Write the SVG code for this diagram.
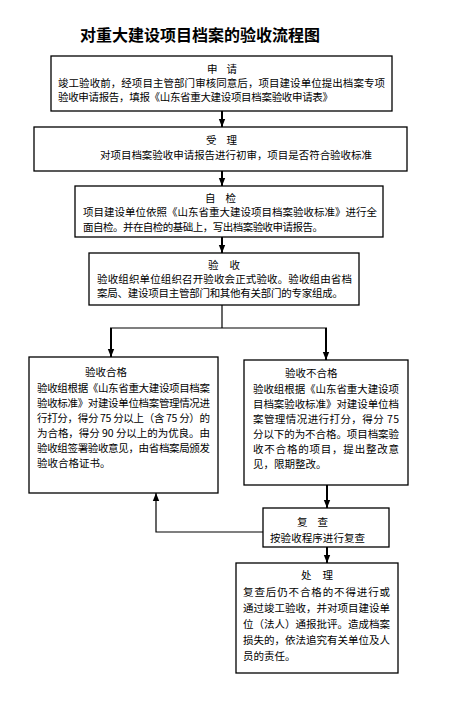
<svg xmlns="http://www.w3.org/2000/svg" width="455" height="701" viewBox="0 0 455 701">
<defs>
<marker id="ah" markerUnits="userSpaceOnUse" markerWidth="8" markerHeight="8" viewBox="0 0 8 8" refX="8" refY="4" orient="auto">
<path d="M0,0.8 L8,4 L0,7.2 Z" fill="#000"/>
</marker>
<style>
.box{fill:#fff;stroke:#000;stroke-width:1.3}
.t{font-family:"Noto Sans CJK SC","Noto Sans CJK JP",sans-serif;font-size:10.5px;fill:#000}
.h{font-family:"Noto Sans CJK SC","Noto Sans CJK JP",sans-serif;font-size:16px;font-weight:bold;fill:#000}
.c{text-anchor:middle}
.thick{fill:none;stroke:#000;stroke-width:2}
.thin{fill:none;stroke:#000;stroke-width:1.2}
</style>
</defs>
<rect width="455" height="701" fill="#fff"/>
<text class="h" x="80" y="41" textLength="240" lengthAdjust="spacingAndGlyphs">对重大建设项目档案的验收流程图</text>

<g id="connectors">
<line class="thick" x1="222" y1="111" x2="222" y2="127" marker-end="url(#ah)"/>
<line class="thick" x1="222" y1="171" x2="222" y2="186" marker-end="url(#ah)"/>
<line class="thick" x1="222" y1="237" x2="222" y2="253" marker-end="url(#ah)"/>
<line class="thin" x1="222" y1="305" x2="222" y2="328"/>
<line class="thin" x1="110" y1="328" x2="327" y2="328"/>
<line class="thick" x1="111" y1="328" x2="111" y2="357" marker-end="url(#ah)"/>
<line class="thick" x1="326" y1="328" x2="326" y2="360" marker-end="url(#ah)"/>
<line class="thick" x1="327" y1="485" x2="327" y2="508" marker-end="url(#ah)"/>
<polyline class="thin" points="263,532 156,532 156,493" marker-end="url(#ah)"/>
<line class="thick" x1="327" y1="547" x2="327" y2="563" marker-end="url(#ah)"/>
</g>

<g id="n-apply">
<rect class="box" x="51" y="56" width="341" height="55"/>
<text class="t" x="207" y="73" textLength="30" lengthAdjust="spacing">申 请</text>
<text class="t" x="58" y="87" textLength="327" lengthAdjust="spacing">竣工验收前，经项目主管部门审核同意后，项目建设单位提出档案专项</text>
<text class="t" x="58" y="101" textLength="275" lengthAdjust="spacing">验收申请报告，填报《山东省重大建设项目档案验收申请表》</text>
</g>

<g id="n-accept">
<rect class="box" x="34" y="127" width="373" height="44"/>
<text class="t" x="206" y="144" textLength="31" lengthAdjust="spacing">受 理</text>
<text class="t" x="100" y="159" textLength="272" lengthAdjust="spacing">对项目档案验收申请报告进行初审，项目是否符合验收标准</text>
</g>

<g id="n-self">
<rect class="box" x="75" y="186" width="308" height="51"/>
<text class="t" x="205" y="202" textLength="31" lengthAdjust="spacing">自 检</text>
<text class="t" x="83" y="216" textLength="294" lengthAdjust="spacing">项目建设单位依照《山东省重大建设项目档案验收标准》进行全</text>
<text class="t" x="83" y="231" textLength="240" lengthAdjust="spacing">面自检。并在自检的基础上，写出档案验收申请报告。</text>
</g>

<g id="n-check">
<rect class="box" x="89" y="253" width="270" height="52"/>
<text class="t" x="208" y="269" textLength="32" lengthAdjust="spacing">验 收</text>
<text class="t" x="97" y="283" textLength="255" lengthAdjust="spacing">验收组织单位组织召开验收会正式验收。验收组由省档</text>
<text class="t" x="97" y="297" textLength="246" lengthAdjust="spacing">案局、建设项目主管部门和其他有关部门的专家组成。</text>
</g>

<g id="n-pass">
<rect class="box" x="29" y="357" width="189" height="136"/>
<text class="t" x="85" y="376">验收合格</text>
<text class="t" x="37" y="392" textLength="173" lengthAdjust="spacing">验收组根据《山东省重大建设项目档案</text>
<text class="t" x="37" y="407" textLength="173" lengthAdjust="spacing">验收标准》对建设单位档案管理情况进</text>
<text class="t" x="37" y="422" textLength="173" lengthAdjust="spacing">行打分，得分 75 分以上（含 75 分）的</text>
<text class="t" x="37" y="437" textLength="173" lengthAdjust="spacing">为合格，得分 90 分以上的为优良。由</text>
<text class="t" x="37" y="452" textLength="173" lengthAdjust="spacing">验收组签署验收意见，由省档案局颁发</text>
<text class="t" x="37" y="467">验收合格证书。</text>
</g>

<g id="n-fail">
<rect class="box" x="244" y="360" width="164" height="125"/>
<text class="t" x="285" y="377">验收不合格</text>
<text class="t" x="253" y="393" textLength="146" lengthAdjust="spacing">验收组根据《山东省重大建设项</text>
<text class="t" x="253" y="408" textLength="146" lengthAdjust="spacing">目档案验收标准》对建设单位档</text>
<text class="t" x="253" y="423" textLength="146" lengthAdjust="spacing">案管理情况进行打分，得分  75</text>
<text class="t" x="253" y="438" textLength="146" lengthAdjust="spacing">分以下的为不合格。项目档案验</text>
<text class="t" x="253" y="453" textLength="146" lengthAdjust="spacing">收不合格的项目，提出整改意</text>
<text class="t" x="253" y="468">见，限期整改。</text>
</g>

<g id="n-recheck">
<rect class="box" x="263" y="508" width="126" height="39"/>
<text class="t" x="297" y="526" textLength="31" lengthAdjust="spacing">复 查</text>
<text class="t" x="270" y="542" textLength="95" lengthAdjust="spacing">按验收程序进行复查</text>
</g>

<g id="n-handle">
<rect class="box" x="236" y="563" width="162" height="110"/>
<text class="t" x="301" y="579" textLength="32" lengthAdjust="spacing">处 理</text>
<text class="t" x="243" y="596" textLength="147" lengthAdjust="spacing">复查后仍不合格的不得进行或</text>
<text class="t" x="243" y="612" textLength="147" lengthAdjust="spacing">通过竣工验收，并对项目建设单</text>
<text class="t" x="243" y="628" textLength="147" lengthAdjust="spacing">位（法人）通报批评。造成档案</text>
<text class="t" x="243" y="644" textLength="147" lengthAdjust="spacing">损失的，依法追究有关单位及人</text>
<text class="t" x="243" y="660">员的责任。</text>
</g>
</svg>
